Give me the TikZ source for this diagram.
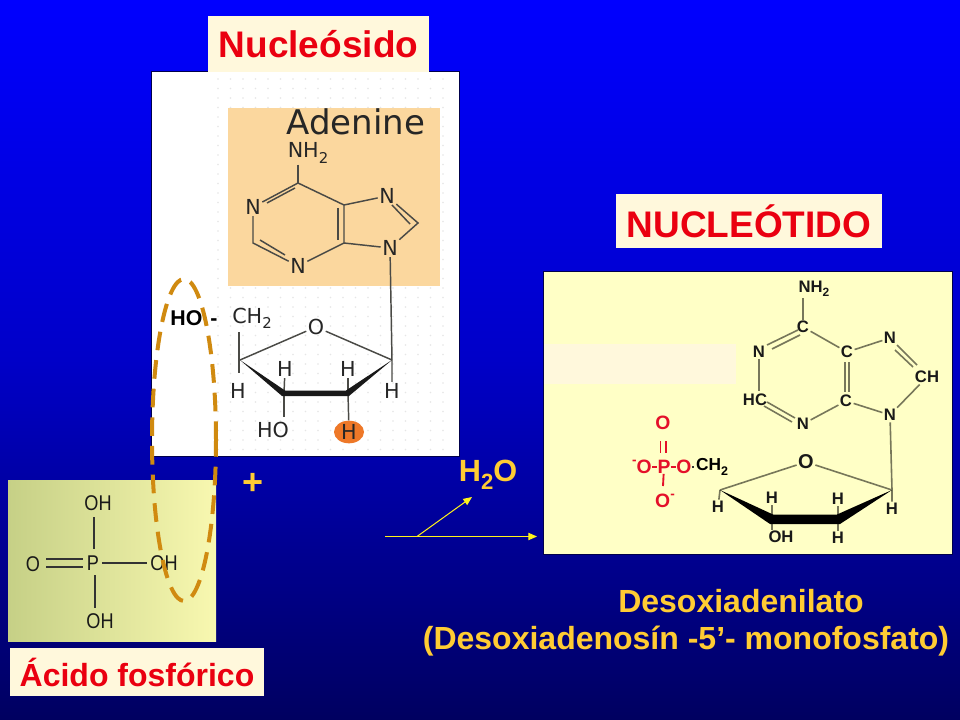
\documentclass[tikz,border=0pt]{standalone}
\usepackage{fontspec}
\setmainfont{Liberation Sans}
\newfontfamily\djvu{DejaVu Sans}
\usetikzlibrary{shapes.geometric,arrows.meta}
\definecolor{cream}{HTML}{FFF8DC}
\definecolor{labelred}{HTML}{EA0010}
\definecolor{goldtext}{HTML}{FFCC33}
\definecolor{peach}{HTML}{FBD79E}
\definecolor{paleyellow}{HTML}{FFFFC6}
\definecolor{dashorange}{HTML}{D08A10}
\definecolor{dotgrey}{HTML}{E6E6E6}
\definecolor{bondgrey}{HTML}{4A4A46}
\definecolor{bondolive}{HTML}{77775A}
\definecolor{phosred}{HTML}{E4102A}
\newcommand{\lowidx}[1]{\raisebox{-0.25em}{\scalebox{0.72}{#1}}}
\newcommand{\highidx}[1]{\raisebox{0.45em}{\scalebox{0.7}{#1}}}
\newcommand{\narrowtxt}[1]{\scalebox{0.85}[1]{#1}}
\tikzset{
  labelbox/.style={fill=cream,text=labelred,font=\fontsize{27.75}{30}\selectfont\bfseries,inner sep=0pt,anchor=center},
  smalllabelbox/.style={labelbox,font=\fontsize{24}{28}\selectfont\bfseries},
  goldlabel/.style={text=goldtext,font=\fontsize{24}{28}\selectfont\bfseries,inner sep=0pt},
  leftatom/.style={font=\djvu\fontsize{15.5}{17}\selectfont,text=black!85,inner sep=1pt},
  rightatom/.style={font=\fontsize{12.5}{14}\selectfont\bfseries,text=black!90,inner sep=1pt},
  redatom/.style={rightatom,text=phosred,font=\fontsize{14.5}{16}\selectfont\bfseries,inner sep=0pt},
  acidatom/.style={font=\fontsize{16}{18}\selectfont,text=black!90,inner sep=2pt},
  leftbond/.style={draw=bondgrey,line width=1.1pt},
  rightbond/.style={draw=bondolive,line width=1.2pt},
  redbond/.style={draw=phosred,line width=1.4pt},
  acidbond/.style={draw=black!80,line width=1.2pt},
  thin arrow/.style={draw=yellow!90!white,line width=0.75pt,-{Triangle[length=6.5pt,width=5.5pt]}}
}
\begin{document}
\begin{tikzpicture}[x=0.75pt,y=-0.75pt]
\useasboundingbox (0,0) rectangle (960,720);
\shade[top color={rgb,255:red,0;green,0;blue,255},bottom color={rgb,255:red,0;green,0;blue,96},middle color={rgb,255:red,0;green,0;blue,200}] (0,0) rectangle (960,720);

% ---------- Nucleoside panel
\fill[black!70!blue] (151,71) rectangle (460,457);
\fill[white] (152,72) rectangle (459,456);
\foreach \i in {0,...,18}{\foreach \j in {0,...,39}{
  \fill[dotgrey] ({218+12.5*\i},{79+9.5*\j}) circle (0.9);}}
\fill[peach] (228,108) rectangle (440,286);
\node[font=\djvu\fontsize{25.5}{26}\selectfont,text=black!85,inner sep=0pt] (adeninetitle) at (356,122) {Adenine};
\node[leftatom] (aNH) at (308,153) {NH\lowidx{2}};
\node[leftatom] (aN1) at (253,207) {N};
\node[leftatom] (aN3) at (298,266) {N};
\node[leftatom] (aN7) at (387,196) {N};
\node[leftatom] (aN9) at (390,248) {N};
\coordinate (aC6) at (298,183);
\coordinate (aC5) at (344,205);
\coordinate (aC4) at (344,243);
\coordinate (aC2) at (253,243);
\coordinate (aC8) at (418,223);
\draw[leftbond] (aC6 |- aNH.south) -- (aC6);
\draw[leftbond] (aN1) -- (aC6) -- (aC5) -- (aC4) -- (aN3);
\draw[leftbond] (aN1) -- (aC2) -- (aN3);
\draw[leftbond] (aC5) -- (aN7) -- (aC8) -- (aN9) -- (aC4);
\draw[leftbond] (267,203) -- (295,188);
\draw[leftbond] (338,208) -- (338,240);
\draw[leftbond] (260,240) -- (285,255);
\draw[leftbond] (392,205) -- (410,224);

\node[leftatom] (sO) at (316,327) {O};
\node[leftatom] (sCH) at (252,318) {CH\lowidx{2}};
\coordinate (sC4) at (240,360);
\coordinate (sC1) at (392,360);
\coordinate (sC3) at (284,393);
\coordinate (sC2) at (348,393);
\coordinate (sCHfoot) at (239,332);
\coordinate (sH4foot) at (239,373);
\coordinate (sOHfoot) at (284,417);
\node[leftatom] (sH4) at (238,391) {H};
\node[leftatom] (sH3) at (285,369) {H};
\node[leftatom] (sH2) at (348,369) {H};
\node[leftatom] (sH1) at (392,391) {H};
\node[leftatom] (sHO) at (273,430) {HO};
\node[fill={rgb,255:red,238;green,120;blue,40},ellipse,minimum width=22.5pt,minimum height=17pt,inner sep=0pt] (sHdot) at (349,432) {};
\node[leftatom] (sHb) at (349,432) {H};
\draw[leftbond] (sC4) -- (sO) -- (sC1);
\draw[leftbond] (aN9) -- (sC1) -- (sH1);
\draw[leftbond] (sCHfoot) -- (sH4foot);
\draw[leftbond] (sC3) -- (sH3);
\draw[leftbond] (sC2) -- (sH2);
\draw[leftbond] (sC3) -- (sOHfoot);
\draw[leftbond] (sC2) -- (sHdot);
\fill[black!90] (sC4) -- (282,396) -- (349,396) -- (sC1) -- (346,390.5) -- (285,390.5) -- cycle;
\node[font=\fontsize{16}{18}\selectfont\bfseries,text=black,inner sep=0pt] (hotext) at (194,318) {HO\hspace{6pt}-};

% ---------- Nucleotide panel
\fill[black!70!blue] (543,271) rectangle (953,555);
\fill[paleyellow] (544,272) rectangle (952,554);
\fill[cream] (544,344) rectangle (736,384);
\node[rightatom] (nNH) at (814,289) {NH\lowidx{2}};
\node[rightatom] (nC6) at (803,327) {C};
\node[rightatom] (nN1) at (759,352) {N};
\node[rightatom] (nC5) at (847,352) {C};
\node[rightatom] (nC2) at (755,400) {HC};
\node[rightatom] (nC4) at (846,401) {C};
\node[rightatom] (nN3) at (803,424) {N};
\node[rightatom] (nN7) at (890,338) {N};
\node[rightatom] (nC8) at (927,377) {CH};
\node[rightatom] (nN9) at (890,415) {N};
\coordinate (nN1foot) at (759,391);
\draw[rightbond] (nNH.south -| nC6) -- (nC6);
\draw[rightbond] (nC6) -- (nC5);
\draw[rightbond] (nN1) -- (nN1foot);
\draw[rightbond] (nC5) -- (nN7);
\draw[rightbond] (nC8) -- (nN9);
\draw[rightbond] (nC4) -- (nN9);
\draw[rightbond] (nC4) -- (nN3);
\draw[rightbond] (767,345) -- (798,330);
\draw[rightbond] (772,349) -- (800,335);
\draw[rightbond] (845,362) -- (845,392);
\draw[rightbond] (849,362) -- (849,392);
\draw[rightbond] (767,402) -- (795,418);
\draw[rightbond] (764,406) -- (792,422);
\draw[rightbond] (897,345) -- (917,365);
\draw[rightbond] (895,350) -- (913,367);
\node[rightatom] (nO) at (806,462) {\fontsize{15}{16}\selectfont O};
\node[rightatom,text=black] (nCH) at (712,467) {\fontsize{13}{14}\selectfont CH\lowidx{2}};
\coordinate (nS4) at (720,490);
\coordinate (nS1) at (892,490);
\coordinate (nS3) at (772,519);
\coordinate (nS2) at (838,519);
\coordinate (nOHfoot) at (772,530);
\node[rightatom] (nH4) at (718,507) {H};
\node[rightatom] (nH3) at (772,498) {H};
\node[rightatom] (nH2) at (838,499) {H};
\node[rightatom] (nH1) at (892,509) {H};
\node[rightatom] (nOH) at (781,537) {OH};
\node[rightatom] (nHb) at (838,538) {H};
\draw[rightbond] (nS4) -- (nO) -- (nS1);
\draw[rightbond] (nN9) -- (nS1) -- (nH1);
\draw[rightbond] (nS4) -- (nH4);
\draw[rightbond] (nS3) -- (nH3);
\draw[rightbond] (nS2) -- (nH2);
\draw[rightbond] (nS3) -- (nOHfoot);
\draw[rightbond] (nS2) -- (nHb);
\fill[black] (nS4) -- (770,524) -- (840,524) -- (nS1) -- (837,514.5) -- (773,514.5) -- cycle;
\node[redatom] (pO1) at (663,423) {O};
\node[redatom] (pP) at (664,467) {P};
\node[redatom] (pOl) at (642,467) {\highidx{-}O};
\node[redatom] (pOr) at (684,467) {O};
\node[redatom] (pO2) at (665,501) {O\highidx{-}};
\coordinate (pfoot) at (663,486);
\draw[redbond] (pOl) -- (pP);
\draw[redbond] (pP) -- (pOr);
\draw[redbond] (660.5,441) -- (660.5,453);
\draw[redbond] (666,441) -- (666,453);
\draw[redbond] (pP) -- (pfoot);
\draw[draw=black!80,line width=1.2pt] (pOr) -- (nCH);

% ---------- Phosphoric acid panel
\shade[left color={rgb,255:red,198;green,208;blue,134},right color={rgb,255:red,248;green,248;blue,176}] (8,480) rectangle (216,641);
\node[acidatom] (aTop) at (98,503) {\narrowtxt{OH}};
\node[acidatom] (aP) at (93,563) {\narrowtxt{P}};
\node[acidatom] (aO) at (33,564) {\narrowtxt{O}};
\node[acidatom] (aR) at (164,563) {\narrowtxt{OH}};
\node[acidatom] (aBot) at (100,621) {\narrowtxt{OH}};
\coordinate (bondUpA) at (94,517);
\coordinate (bondUpB) at (94,549);
\coordinate (bondDnA) at (95,575);
\coordinate (bondDnB) at (95,608);
\draw[acidbond] (bondUpA) -- (bondUpB);
\draw[acidbond] (aP) -- (aR);
\draw[acidbond] (bondDnA) -- (bondDnB);
\draw[acidbond] (46,559) -- (83,559);
\draw[acidbond] (46,567) -- (83,567);

% ---------- Dashed loop
\node[ellipse,draw=dashorange,line width=3pt,dash pattern=on 14pt off 7.5pt,minimum width=48pt,minimum height=241.5pt,inner sep=0pt] (loop) at (184,440) {};

% ---------- Labels
\node[labelbox,minimum width=165.75pt,minimum height=42pt] (nucleosido) at (318.5,44) {Nucleósido};
\node[labelbox,minimum width=199.5pt,minimum height=40.5pt] (nucleotido) at (749,221) {NUCLEÓTIDO};
\node[smalllabelbox,minimum width=190.5pt,minimum height=36pt] (acido) at (137,672) {Ácido fosfórico};
\node[goldlabel,font=\fontsize{27}{28}\selectfont\bfseries] (plus) at (253,484) {+};
\node[goldlabel,font=\fontsize{23}{24}\selectfont\bfseries] (water) at (488,475) {H\lowidx{2}O};
\node[goldlabel] (desoxi) at (741,601) {Desoxiadenilato};
\node[goldlabel] (monofos) at (686,641) {(Desoxiadenosín -5’- monofosfato)};

% ---------- Reaction arrows
\coordinate (arrowstart) at (385,536.5);
\coordinate (arrowend) at (537,536.5);
\coordinate (branch) at (417,536.5);
\coordinate (branchend) at (472,497);
\draw[thin arrow] (arrowstart) -- (arrowend);
\draw[thin arrow] (branch) -- (branchend);
\end{tikzpicture}
\end{document}
